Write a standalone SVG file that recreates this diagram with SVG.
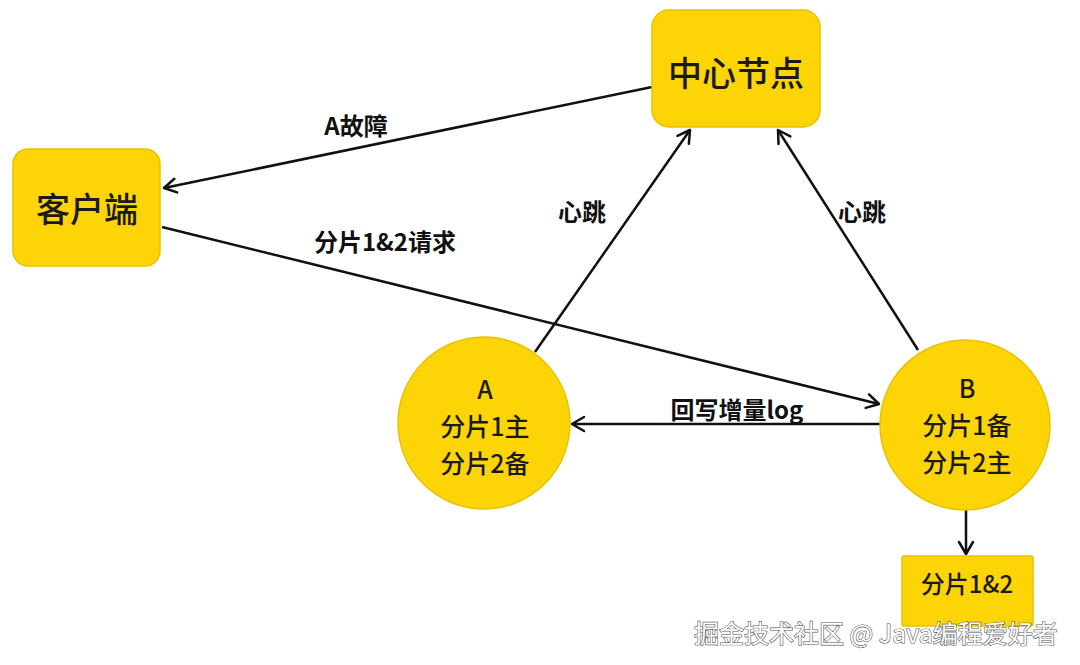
<svg xmlns="http://www.w3.org/2000/svg" width="1080" height="665" viewBox="0 0 1080 665">
<style>
.node{fill:#FDD405;stroke:#EBC000;stroke-width:1.5}
.nt{font-family:"Noto Sans CJK SC","Noto Sans",sans-serif;fill:#1a1a1a;text-anchor:middle;dominant-baseline:central}
.big{font-size:34px;font-weight:500}
.mid{font-size:25px;font-weight:500}
.lbl{font-family:"Noto Sans CJK SC","Noto Sans",sans-serif;fill:#111;font-size:24px;font-weight:700;text-anchor:middle;dominant-baseline:central}
.edge{stroke:#111;stroke-width:2.5;fill:none}
.wm{font-family:"Noto Sans CJK SC","Noto Sans",sans-serif;font-size:25px;fill:#fff;stroke:#555;stroke-width:1.2;paint-order:stroke;dominant-baseline:central}
</style>
<defs>
<marker id="arr" markerUnits="userSpaceOnUse" markerWidth="20" markerHeight="20" viewBox="-14 -10 16 20" refX="0" refY="0" orient="auto">
<path d="M -12 -7 L 0 0 L -12 7" fill="none" stroke="#111" stroke-width="2.5" stroke-linecap="round" stroke-linejoin="round"/>
</marker>
</defs>
<rect width="1080" height="665" fill="#fff"/>
<g id="connectors">
<line class="edge" x1="652" y1="87" x2="164" y2="188" marker-end="url(#arr)"/>
<line class="edge" x1="162" y1="227" x2="879" y2="404" marker-end="url(#arr)"/>
<line class="edge" x1="535" y1="352" x2="690" y2="130" marker-end="url(#arr)"/>
<line class="edge" x1="918" y1="350" x2="778" y2="130" marker-end="url(#arr)"/>
<line class="edge" x1="880" y1="424" x2="572" y2="424" marker-end="url(#arr)"/>
<line class="edge" x1="966" y1="510" x2="966" y2="554" marker-end="url(#arr)"/>
<text class="lbl" x="356" y="124">A故障</text>
<text class="lbl" x="385" y="240">分片1&amp;2请求</text>
<text class="lbl" x="582" y="210">心跳</text>
<text class="lbl" x="862" y="210">心跳</text>
<text class="lbl" x="737" y="408">回写增量log</text>
</g>
<g id="center">
<rect class="node" x="652" y="10" width="168" height="117" rx="17"/>
<text class="nt big" x="736" y="71">中心节点</text>
</g>
<g id="client">
<rect class="node" x="13" y="149" width="147" height="117" rx="15"/>
<text class="nt big" x="87" y="207">客户端</text>
</g>
<g id="nodeA">
<circle class="node" cx="484" cy="423" r="86"/>
<text class="nt mid" x="485" y="388">A</text>
<text class="nt mid" x="485" y="425">分片1主</text>
<text class="nt mid" x="485" y="462">分片2备</text>
</g>
<g id="nodeB">
<circle class="node" cx="965" cy="425" r="85"/>
<text class="nt mid" x="967" y="387">B</text>
<text class="nt mid" x="967" y="424">分片1备</text>
<text class="nt mid" x="967" y="461">分片2主</text>
</g>
<g id="shard">
<rect class="node" x="902" y="556" width="131" height="70" rx="2"/>
<text class="nt" style="font-size:24px;font-weight:500" x="967" y="582">分片1&amp;2</text>
</g>
<g id="watermark">
<text class="wm" x="694" y="632">掘金技术社区 @ Java编程爱好者</text>
</g>
</svg>
